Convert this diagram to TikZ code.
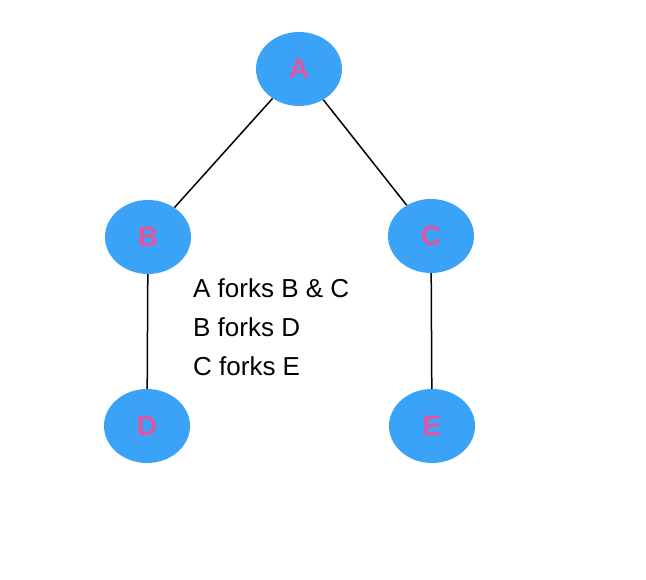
\documentclass[tikz,border=0pt]{standalone}
\usepackage{fontspec}
\setmainfont{Liberation Sans}
\usetikzlibrary{shapes.geometric}
\definecolor{nblue}{HTML}{3AA3F7}
\definecolor{npink}{HTML}{E2559E}
\begin{document}
\begin{tikzpicture}[x=1pt,y=-1pt,
  nd/.style={ellipse,fill=nblue,minimum width=86pt,minimum height=74pt,inner sep=0pt,
    font=\fontsize{28}{28}\selectfont\bfseries,text=npink},
  ln/.style={line width=1.5pt}]
\useasboundingbox (0,0) rectangle (646,580);
\node[nd] (A) at (299,69) {A};
\node[nd] (B) at (148,237) {B};
\node[nd] (C) at (431,236) {C};
\node[nd] (D) at (147,426) {D};
\node[nd] (E) at (432,426) {E};
\draw[ln] (A) -- (B);
\draw[ln] (A) -- (C);
\draw[ln] (B) -- (D);
\draw[ln] (C) -- (E);
\node[anchor=north west,align=left,font=\fontsize{26}{39}\selectfont,inner sep=0pt] (t) at (193,278) {A forks B \& C\\B forks D\\C forks E};
\end{tikzpicture}
\end{document}
